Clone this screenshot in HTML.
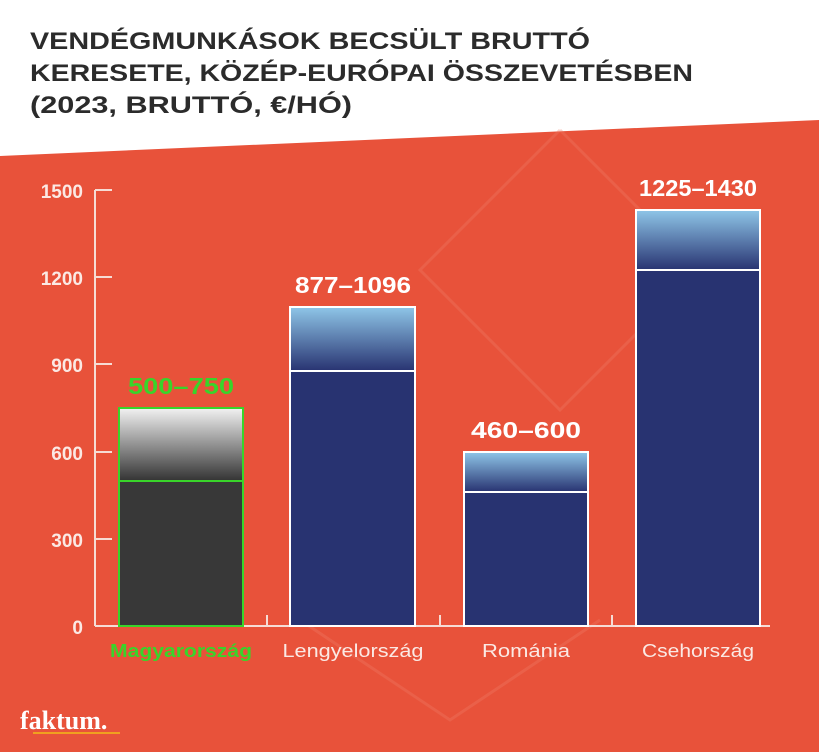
<!DOCTYPE html>
<html><head><meta charset="utf-8"><style>
body{margin:0;width:819px;height:752px;overflow:hidden;background:#e8523a;font-family:"Liberation Sans",sans-serif}
</style></head><body>
<svg width="819" height="752" xmlns="http://www.w3.org/2000/svg" style="position:absolute;left:0;top:0">
<defs>
<linearGradient id="gb" x1="0" y1="0" x2="0" y2="1"><stop offset="0" stop-color="#8fc6e8"/><stop offset="1" stop-color="#283371"/></linearGradient>
<linearGradient id="gg" x1="0" y1="0" x2="0" y2="1"><stop offset="0" stop-color="#f2f2f2"/><stop offset="1" stop-color="#333"/></linearGradient>
</defs>
<rect width="819" height="752" fill="#e8523a"/>
<polygon points="0,0 819,0 819,120 0,156" fill="#fff"/>
<g fill="none" stroke="#ef7a66" stroke-width="3" opacity="0.35">
<polyline points="560,130 700,270 560,410 420,270 560,130"/>
<polyline points="300,620 450,720 600,620"/>
</g>
<g font-weight="bold" fill="#2b2b2b" font-size="24">
<text x="30" y="49" textLength="560" lengthAdjust="spacingAndGlyphs">VENDÉGMUNKÁSOK BECSÜLT BRUTTÓ</text>
<text x="30" y="81" textLength="663" lengthAdjust="spacingAndGlyphs">KERESETE, KÖZÉP-EURÓPAI ÖSSZEVETÉSBEN</text>
<text x="30" y="113" textLength="322" lengthAdjust="spacingAndGlyphs">(2023,  BRUTTÓ, €/HÓ)</text>
</g>
<g stroke="#f6dcd5" stroke-width="2" fill="none">
<line x1="95" y1="190" x2="95" y2="626"/>
<line x1="95" y1="626" x2="770" y2="626"/>
<line x1="95" y1="190" x2="112" y2="190"/><line x1="95" y1="277" x2="112" y2="277"/>
<line x1="95" y1="364" x2="112" y2="364"/><line x1="95" y1="452" x2="112" y2="452"/>
<line x1="95" y1="539" x2="112" y2="539"/>
<line x1="267" y1="615" x2="267" y2="626"/><line x1="440" y1="615" x2="440" y2="626"/><line x1="612" y1="615" x2="612" y2="626"/>
</g>
<g font-weight="bold" fill="#fbe9e4" font-size="19" text-anchor="end">
<text x="83" y="198">1500</text><text x="83" y="285">1200</text><text x="83" y="372">900</text>
<text x="83" y="460">600</text><text x="83" y="547">300</text><text x="83" y="634">0</text>
</g>
<rect x="119" y="408" width="124" height="73" fill="url(#gg)" stroke="#39d42a" stroke-width="2"/>
<rect x="119" y="481" width="124" height="145" fill="#383838" stroke="#39d42a" stroke-width="2"/>
<rect x="290" y="307" width="125" height="64" fill="url(#gb)" stroke="#fff" stroke-width="2"/>
<rect x="290" y="371" width="125" height="255" fill="#283371" stroke="#fff" stroke-width="2"/>
<rect x="464" y="452" width="124" height="40" fill="url(#gb)" stroke="#fff" stroke-width="2"/>
<rect x="464" y="492" width="124" height="134" fill="#283371" stroke="#fff" stroke-width="2"/>
<rect x="636" y="210" width="124" height="60" fill="url(#gb)" stroke="#fff" stroke-width="2"/>
<rect x="636" y="270" width="124" height="356" fill="#283371" stroke="#fff" stroke-width="2"/>
<g font-weight="bold" font-size="23" text-anchor="middle" fill="#fff">
<text x="181" y="394" fill="#39d42a" textLength="106" lengthAdjust="spacingAndGlyphs">500–750</text>
<text x="353" y="293" textLength="116" lengthAdjust="spacingAndGlyphs">877–1096</text>
<text x="526" y="438" textLength="110" lengthAdjust="spacingAndGlyphs">460–600</text>
<text x="698" y="196" textLength="118" lengthAdjust="spacingAndGlyphs">1225–1430</text>
</g>
<g font-size="18" text-anchor="middle" fill="#fbe9e4">
<text x="181" y="657" fill="#39d42a" font-weight="bold" textLength="142" lengthAdjust="spacingAndGlyphs">Magyarország</text>
<text x="353" y="657" textLength="141" lengthAdjust="spacingAndGlyphs">Lengyelország</text>
<text x="526" y="657" textLength="88" lengthAdjust="spacingAndGlyphs">Románia</text>
<text x="698" y="657" textLength="112" lengthAdjust="spacingAndGlyphs">Csehország</text>
</g>
<text x="20" y="729" font-family="Liberation Serif,serif" font-weight="bold" font-size="26" fill="#fff">faktum.</text>
<line x1="33" y1="733" x2="120" y2="733" stroke="#f0a020" stroke-width="2"/>
</svg>
</body></html>
